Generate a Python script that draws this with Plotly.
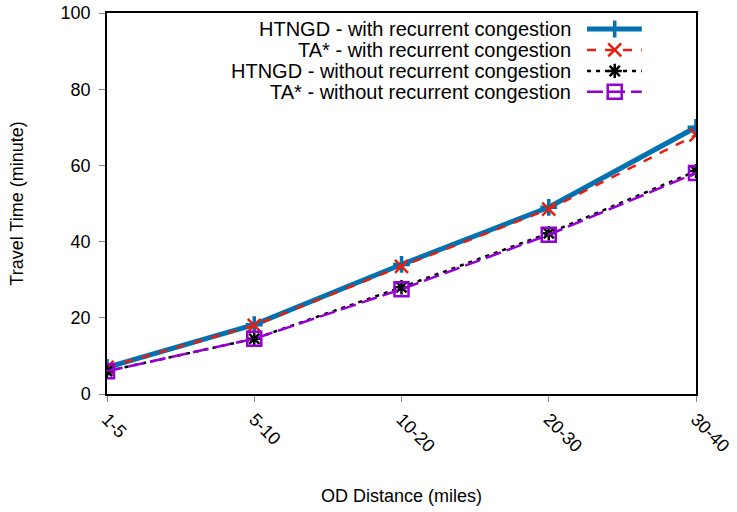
import plotly.graph_objects as go

categories = ["1-5", "5-10", "10-20", "20-30", "30-40"]
htngd_with = [7.0, 18.2, 34.0, 49.0, 70.0]
ta_with = [7.0, 18.0, 33.5, 48.5, 68.0]
htngd_without = [6.0, 14.5, 28.0, 42.2, 58.5]
ta_without = [6.0, 14.5, 27.5, 41.8, 58.0]

series_names = [
    "HTNGD - with recurrent congestion",
    "TA* - with recurrent congestion",
    "HTNGD - without recurrent congestion",
    "TA* - without recurrent congestion",
]
series_values = [htngd_with, ta_with, htngd_without, ta_without]

styles = [
    dict(color="#0072b2", width=5, dash="solid", symbol="cross-thin-open", msize=12, mwidth=3.5),
    dict(color="#e51e10", width=2.5, dash="9px,9px", symbol="x-thin-open", msize=13, mwidth=2.5),
    dict(color="#000000", width=2.5, dash="4px,5px", symbol="asterisk-open", msize=12, mwidth=2.5),
    dict(color="#9400d3", width=2.5, dash="16px,6px", symbol="square-open", msize=14, mwidth=2.5),
]

FONT = "Liberation Sans, Arial, sans-serif"

fig = go.Figure()
xs = list(range(len(categories)))
for name, vals, st in zip(series_names, series_values, styles):
    fig.add_trace(go.Scatter(
        x=xs, y=vals, mode="lines+markers", name=name, showlegend=False,
        line=dict(color=st["color"], width=st["width"], dash=st["dash"]),
        marker=dict(symbol=st["symbol"], size=st["msize"],
                    line=dict(color=st["color"], width=st["mwidth"]), color=st["color"]),
    ))

# custom legend (text left of the sample, like the original)
leg_rows = [0.958, 0.903, 0.848, 0.793]
for name, st, yy in zip(series_names, styles, leg_rows):
    fig.add_trace(go.Scatter(
        x=[0.815, 0.908], y=[yy, yy], mode="lines", xaxis="x2", yaxis="y2",
        showlegend=False, hoverinfo="skip",
        line=dict(color=st["color"], width=st["width"], dash=st["dash"]),
    ))
    fig.add_trace(go.Scatter(
        x=[0.862], y=[yy], mode="markers", xaxis="x2", yaxis="y2",
        showlegend=False, hoverinfo="skip",
        marker=dict(symbol=st["symbol"], size=st["msize"],
                    line=dict(color=st["color"], width=st["mwidth"]), color=st["color"]),
    ))
    fig.add_annotation(x=0.791, y=yy, xref="paper", yref="paper", text=name,
                       showarrow=False, xanchor="right", yanchor="middle",
                       font=dict(size=20, color="black", family=FONT))

fig.update_layout(
    width=737, height=512,
    margin=dict(l=107, r=41, t=13, b=118),
    plot_bgcolor="white", paper_bgcolor="white",
    font=dict(family=FONT, size=18, color="black"),
    xaxis=dict(
        tickmode="array", tickvals=xs, ticktext=categories, range=[0, 4],
        tickangle=45, showgrid=False, zeroline=False, automargin=False,
        showline=True, linecolor="black", linewidth=1.5, mirror=True,
        ticks="outside", ticklen=6, tickcolor="#888888",
        ticklabeloverflow="allow",
        title=dict(text="OD Distance (miles)", font=dict(size=18), standoff=34),
    ),
    yaxis=dict(
        range=[0, 100], tickvals=[0, 20, 40, 60, 80, 100],
        showgrid=False, zeroline=False, automargin=False,
        showline=True, linecolor="black", linewidth=1.5, mirror=True,
        ticks="outside", ticklen=6, tickcolor="#888888",
        ticklabelstandoff=5, ticklabeloverflow="allow",
        title=dict(text="Travel Time (minute)", font=dict(size=18), standoff=32),
    ),
    xaxis2=dict(overlaying="x", range=[0, 1], visible=False, fixedrange=True),
    yaxis2=dict(overlaying="y", range=[0, 1], visible=False, fixedrange=True),
)

# remove the default 8px page margin so the figure fills the window exactly
fig.write_html("out.html", config={"displayModeBar": False},
               post_script="document.body.style.margin='0';")
